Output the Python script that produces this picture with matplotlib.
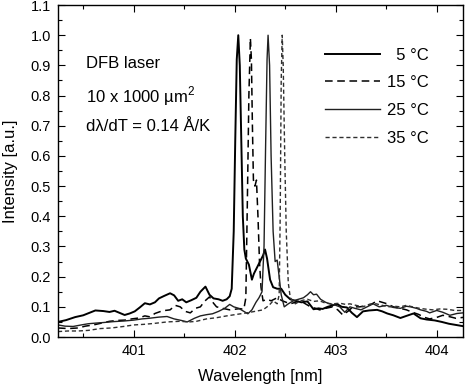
import matplotlib
matplotlib.use("Agg")
import matplotlib.pyplot as plt
from matplotlib.ticker import MultipleLocator, FormatStrFormatter

plt.rcParams['font.family'] = ['Liberation Sans', 'DejaVu Sans']
plt.rcParams['mathtext.fontset'] = 'custom'
plt.rcParams['mathtext.rm'] = 'Liberation Sans'

# ---- data ----
w5 = [400.25, 400.33, 400.42, 400.50, 400.56, 400.62, 400.70, 400.76, 400.81, 400.86,
      400.91, 400.96, 401.01, 401.06, 401.11, 401.16, 401.21, 401.25, 401.30, 401.36,
      401.40, 401.44, 401.48, 401.52, 401.57, 401.62, 401.66, 401.71, 401.75, 401.79,
      401.84, 401.88, 401.92, 401.95, 401.97, 401.99, 402.005, 402.02, 402.035, 402.05,
      402.065, 402.08, 402.095, 402.11, 402.14, 402.17, 402.19, 402.22, 402.25, 402.28,
      402.30, 402.32, 402.35, 402.38, 402.42, 402.46, 402.50, 402.55, 402.60, 402.66,
      402.72, 402.78, 402.83, 402.87, 402.92, 402.97, 403.01, 403.06, 403.11, 403.16,
      403.21, 403.27, 403.33, 403.41, 403.46, 403.51, 403.57, 403.64, 403.70, 403.77,
      403.84, 403.90, 403.98, 404.05, 404.12, 404.19, 404.26]
i5 = [0.050, 0.056, 0.066, 0.072, 0.080, 0.088, 0.086, 0.083, 0.087, 0.080,
      0.073, 0.078, 0.085, 0.098, 0.112, 0.108, 0.115, 0.128, 0.136, 0.145,
      0.138, 0.120, 0.125, 0.115, 0.122, 0.130, 0.150, 0.167, 0.140, 0.128,
      0.125, 0.120, 0.125, 0.135, 0.160, 0.35, 0.65, 0.92, 1.00, 0.90,
      0.65, 0.40, 0.29, 0.26, 0.24, 0.19, 0.21, 0.23, 0.25, 0.27,
      0.29, 0.26, 0.19, 0.165, 0.160, 0.160, 0.140, 0.125, 0.120, 0.115,
      0.118, 0.092, 0.095, 0.093, 0.100, 0.105, 0.110, 0.100, 0.098, 0.080,
      0.066, 0.085, 0.088, 0.090, 0.085, 0.078, 0.072, 0.063, 0.070, 0.078,
      0.062, 0.058, 0.055, 0.050, 0.044, 0.040, 0.036]

w15 = [400.25, 400.35, 400.45, 400.52, 400.60, 400.68, 400.76, 400.84, 400.91, 400.98,
       401.05, 401.11, 401.16, 401.21, 401.26, 401.31, 401.36, 401.41, 401.46, 401.51,
       401.56, 401.61, 401.66, 401.70, 401.75, 401.79, 401.82, 401.88, 401.95, 402.00,
       402.05, 402.09, 402.11, 402.125, 402.14, 402.155, 402.165, 402.175, 402.185, 402.20,
       402.215, 402.23, 402.245, 402.26, 402.28, 402.32, 402.36, 402.42, 402.47, 402.55,
       402.60, 402.65, 402.70, 402.75, 402.80, 402.84, 402.90, 402.97, 403.02, 403.07,
       403.12, 403.17, 403.24, 403.31, 403.36, 403.41, 403.46, 403.51, 403.57, 403.64,
       403.70, 403.76, 403.82, 403.88, 403.93, 404.00, 404.06, 404.12, 404.19, 404.26]
i15 = [0.030, 0.028, 0.030, 0.036, 0.040, 0.046, 0.052, 0.055, 0.056, 0.060,
       0.063, 0.070, 0.067, 0.078, 0.084, 0.088, 0.090, 0.105, 0.100, 0.085,
       0.080, 0.095, 0.100, 0.118, 0.133, 0.112, 0.100, 0.095, 0.090, 0.092,
       0.094, 0.092, 0.13, 0.45, 0.80, 0.99, 0.92, 0.70, 0.52, 0.50,
       0.52, 0.40, 0.25, 0.165, 0.120, 0.125, 0.120, 0.130, 0.120, 0.110,
       0.115, 0.120, 0.110, 0.100, 0.095, 0.090, 0.095, 0.100, 0.090, 0.073,
       0.085, 0.100, 0.100, 0.105, 0.110, 0.120, 0.115, 0.110, 0.100, 0.095,
       0.090, 0.082, 0.075, 0.065, 0.060, 0.065, 0.072, 0.068, 0.062, 0.065]

w25 = [400.25, 400.32, 400.40, 400.48, 400.55, 400.62, 400.70, 400.80, 400.90, 401.00,
       401.08, 401.15, 401.25, 401.33, 401.40, 401.47, 401.53, 401.60, 401.66, 401.72,
       401.78, 401.84, 401.90, 401.95, 401.99, 402.04, 402.09, 402.13, 402.17, 402.21,
       402.24, 402.27, 402.29, 402.305, 402.32, 402.33, 402.345, 402.36, 402.38, 402.40,
       402.42, 402.44, 402.46, 402.49, 402.53, 402.58, 402.63, 402.68, 402.72, 402.75,
       402.78, 402.81, 402.85, 402.90, 402.94, 403.00, 403.04, 403.09, 403.14, 403.19,
       403.25, 403.31, 403.37, 403.43, 403.50, 403.57, 403.64, 403.70, 403.74, 403.80,
       403.84, 403.90, 403.93, 404.00, 404.06, 404.13, 404.20, 404.26]
i25 = [0.040, 0.036, 0.035, 0.040, 0.044, 0.046, 0.048, 0.051, 0.053, 0.056,
       0.060, 0.062, 0.066, 0.068, 0.060, 0.055, 0.050, 0.062, 0.070, 0.074,
       0.077, 0.085, 0.095, 0.108, 0.100, 0.095, 0.085, 0.077, 0.090, 0.115,
       0.130, 0.150, 0.30, 0.62, 0.92, 1.00, 0.90, 0.60, 0.35, 0.25,
       0.255, 0.20, 0.14, 0.100, 0.110, 0.120, 0.125, 0.130, 0.140, 0.150,
       0.140, 0.142, 0.125, 0.115, 0.110, 0.105, 0.100, 0.082, 0.100, 0.095,
       0.090, 0.100, 0.110, 0.100, 0.105, 0.098, 0.095, 0.102, 0.100, 0.095,
       0.090, 0.085, 0.080, 0.088, 0.082, 0.072, 0.078, 0.080]

w35 = [400.25, 400.35, 400.45, 400.55, 400.67, 400.78, 400.90, 401.00, 401.10, 401.20,
       401.33, 401.45, 401.55, 401.62, 401.72, 401.82, 401.92, 402.02, 402.12, 402.20,
       402.28, 402.34, 402.38, 402.42, 402.44, 402.45, 402.46, 402.47, 402.48, 402.495,
       402.51, 402.53, 402.55, 402.60, 402.65, 402.72, 402.78, 402.84, 402.90, 402.97,
       403.04, 403.10, 403.14, 403.20, 403.27, 403.33, 403.40, 403.46, 403.52, 403.58,
       403.64, 403.70, 403.76, 403.83, 403.90, 403.96, 404.03, 404.10, 404.18, 404.26]
i35 = [0.018, 0.020, 0.020, 0.022, 0.028, 0.030, 0.035, 0.040, 0.042, 0.045,
       0.050, 0.052, 0.050, 0.052, 0.060, 0.064, 0.070, 0.075, 0.080, 0.085,
       0.090, 0.105, 0.120, 0.110, 0.14, 0.40, 0.85, 1.00, 0.90, 0.60,
       0.35, 0.18, 0.130, 0.110, 0.120, 0.125, 0.118, 0.120, 0.112, 0.110,
       0.112, 0.108, 0.110, 0.105, 0.100, 0.108, 0.110, 0.105, 0.100, 0.102,
       0.100, 0.105, 0.100, 0.095, 0.092, 0.090, 0.093, 0.092, 0.088, 0.088]

labels = ['  5 °C', '15 °C', '25 °C', '35 °C']

fig = plt.figure(figsize=(4.65, 3.88), dpi=100)
ax = fig.add_axes([0.1247, 0.1314, 0.871, 0.8556])

ax.plot(w5, i5, color='black', lw=1.4, ls='-', label=labels[0])
ax.plot(w15, i15, color='black', lw=1.1, ls=(0, (5, 3)), label=labels[1])
ax.plot(w25, i25, color='#202020', lw=1.0, ls='-', label=labels[2])
ax.plot(w35, i35, color='#303030', lw=1.0, ls=(0, (3, 2)), label=labels[3])

ax.set_xlim(400.25, 404.26)
ax.set_ylim(0.0, 1.1)
ax.xaxis.set_major_locator(MultipleLocator(1))
ax.xaxis.set_minor_locator(MultipleLocator(0.5))
ax.yaxis.set_major_locator(MultipleLocator(0.1))
ax.yaxis.set_minor_locator(MultipleLocator(0.05))
ax.yaxis.set_major_formatter(FormatStrFormatter('%.1f'))
ax.tick_params(which='both', direction='in', top=True, right=True, labelsize=10.5, width=0.8)
ax.tick_params(which='major', length=5, pad=5)
ax.tick_params(which='minor', length=3)
for s in ax.spines.values():
    s.set_linewidth(1.0)

ax.set_xlabel('Wavelength [nm]', fontsize=12, labelpad=8)
ax.set_ylabel('Intensity [a.u.]', fontsize=12, labelpad=9)

ax.text(0.069, 0.825, 'DFB laser', transform=ax.transAxes, fontsize=12, va='center')
ax.text(0.069, 0.725, '10 x 1000 µm$^2$', transform=ax.transAxes, fontsize=12, va='center')
ax.text(0.069, 0.633, 'dλ/dT = 0.14 Å/K', transform=ax.transAxes, fontsize=12, va='center')

ax.legend(loc='upper right', bbox_to_anchor=(0.915, 0.872), frameon=False, fontsize=12,
          handlelength=3.3, handletextpad=0.4, labelspacing=0.76, borderpad=0, borderaxespad=0)

fig.savefig('out.png', dpi=100)
